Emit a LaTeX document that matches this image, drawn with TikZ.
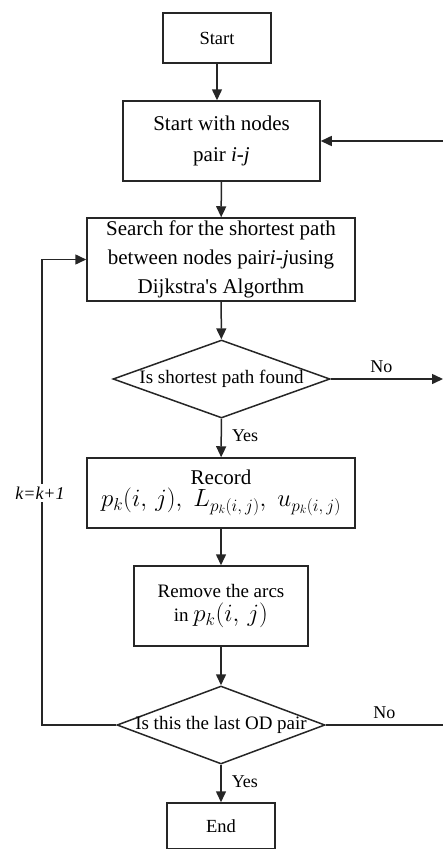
\documentclass[tikz,border=0pt]{standalone}
\usepackage{fontspec}
\setmainfont{Liberation Serif}
\usetikzlibrary{shapes.geometric,arrows.meta}
\begin{document}
\begin{tikzpicture}[x=1pt,y=-1pt,
  box/.style={draw=black!85,line width=1.5pt,inner sep=0pt,align=center},
  dia/.style={draw=black!85,line width=1.5pt,diamond,inner sep=0pt},
  conn/.style={draw=black!85,line width=1.5pt,-{Triangle[length=11pt,width=10pt]}},
  plain/.style={draw=black!85,line width=1.5pt},
  fA/.style={font=\fontsize{18.5}{24}\selectfont},
  fB/.style={font=\fontsize{21}{29}\selectfont},
  fC/.style={font=\fontsize{19}{27}\selectfont},
  lab/.style={font=\fontsize{18}{22}\selectfont,inner sep=0pt},
  ]
\useasboundingbox (0,0) rectangle (443,849);

\node[box,fA,minimum width=108pt,minimum height=50pt] (start) at (217,38) {Start};
\node[box,font=\fontsize{21}{31}\selectfont,minimum width=197pt,minimum height=80pt] (swn) at (221.5,141) {\raisebox{-3pt}{Start with nodes}\\\raisebox{-3pt}{pair \textit{i-j}}};
\node[box,fB,minimum width=268pt,minimum height=83pt] (search) at (221,259.5) {\raisebox{-3pt}{Search for the shortest path}\\\raisebox{-3pt}{between nodes pair\textit{i-j}using}\\\raisebox{-3pt}{Dijkstra\textquotesingle s Algorthm}};
\node[dia,minimum width=217pt,minimum height=78pt,
  label={[fC,inner sep=0pt]center:Is shortest path found}] (d1) at (221.5,379) {};
\node[box,fB,minimum width=268pt,minimum height=70pt] (record) at (221,493) {Record\\[-7pt]\fontsize{25}{25}\selectfont$p_k(i,\,j),\;L_{p_k(i,\,j)},\;u_{p_k(i,\,j)}$};
\node[box,fC,minimum width=174pt,minimum height=80pt] (remove) at (221,606) {Remove the arcs\\[-3pt]in {\fontsize{25}{25}\selectfont$p_k(i,\,j)$}};
\node[dia,minimum width=208pt,minimum height=78pt,
  label={[fC,inner sep=0pt]center:Is this the last OD pair}] (d2) at (221,725) {};
\node[box,fA,minimum width=108pt,minimum height=46pt] (end) at (221,826) {End};

\coordinate (r0) at (443,141);
\coordinate (r1) at (443,379);
\coordinate (r2) at (443,725);
\coordinate (loopL) at (42,259.5);

\draw[conn] (start.south) -- (start.south |- swn.north);
\draw[conn] (swn) -- (search);
\draw[conn] (search) -- (d1);
\draw[conn] (d1) -- node[lab,pos=0.45,right=10pt] {Yes} (record);
\draw[conn] (record) -- (remove);
\draw[conn] (remove) -- (d2);
\draw[conn] (d2) -- node[lab,pos=0.45,right=10pt] {Yes} (end);
\draw[conn] (d1.east) -- node[lab,pos=0.45,above=6pt] {No} (r1);
\draw[plain] (d2.east) -- node[lab,pos=0.5,above=6pt] {No} (r2);
\draw[conn] (r0) -- (swn.east);
\draw[conn] (d2.west) -| (loopL) -- (search.west);
\node[lab,fill=white,inner sep=3pt,font=\fontsize{18}{22}\selectfont\itshape] (klab) at (40,493) {k=k+1};
\end{tikzpicture}
\end{document}
